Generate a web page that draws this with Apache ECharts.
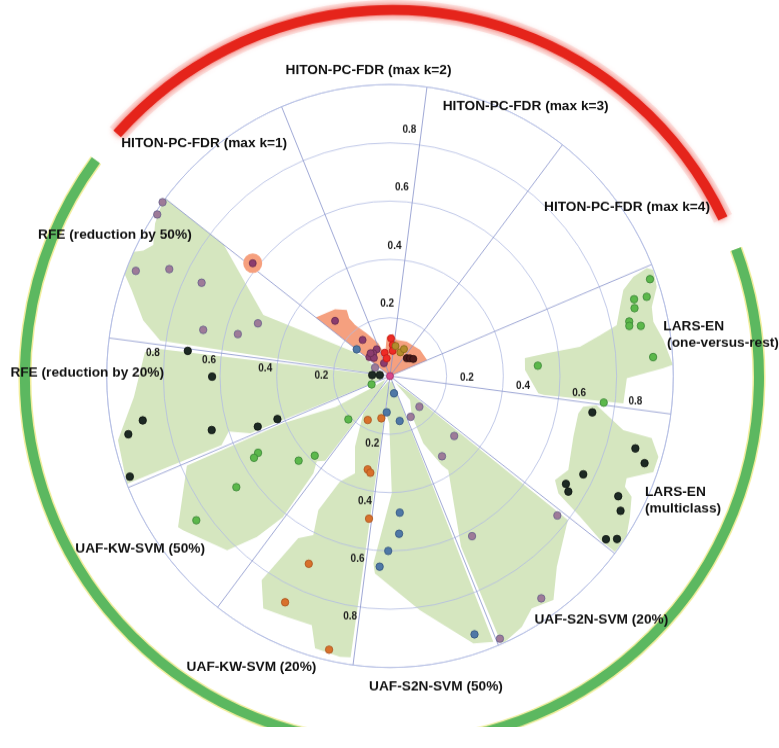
<!DOCTYPE html>
<html>
<head>
<meta charset="utf-8">
<script src="https://cdn.jsdelivr.net/npm/echarts@6/dist/echarts.min.js"></script>
<style>
  html, body { margin: 0; padding: 0; background: #ffffff; overflow: hidden; }
  /* the figure is drawn slightly taller than wide */
  #chart { width: 779px; height: 727px; transform: scaleY(1.029); transform-origin: 0 0; }
</style>
</head>
<body>
<div id="chart"></div>
<script>
// ---- sectors: twelve methods, 30 degrees each, spokes at 22.5 + 30k (math angles) ----
const spokeOffset = 22.5;
const radiusTicks = [0.2, 0.4, 0.6, 0.8];

// ---- observations: [score, angle in degrees] ----
const rfe50 = [[1.00, 143.4], [0.991, 146.0], [0.967, 158.1], [0.861, 154.8], [0.738, 154.3],
               [0.678, 166.5], [0.556, 165.0], [0.500, 158.8], [0.060, 151.6]];
const rfe20 = [[0.719, 173.1], [0.628, 180.2], [0.886, 189.9], [0.945, 192.2], [0.656, 196.4],
               [0.981, 200.6], [0.424, 200.4], [0.498, 200.4], [0.063, 176.9], [0.036, 174.5]];
const kw50 = [[0.071, 203.8], [0.209, 225.3], [0.381, 225.8], [0.434, 222.0], [0.535, 209.5],
              [0.556, 210.3], [0.663, 215.1], [0.844, 215.9]];
const kw20 = [[0.170, 242.5], [0.148, 258.1], [0.330, 256.2], [0.339, 258.2], [0.495, 261.4],
              [0.705, 246.0], [0.860, 244.5], [0.963, 257.1]];
const s2n50 = [[0.061, 283.4], [0.125, 264.7], [0.158, 282.5], [0.470, 274.2], [0.542, 273.4],
               [0.600, 269.4], [0.655, 266.8], [0.935, 288.6], [0.149, 142.1]];
const s2n20 = [[0.148, 314.5], [0.158, 297.6], [0.306, 317.8], [0.331, 303.7], [0.760, 321.0],
               [0.621, 297.8], [0.931, 305.0], [0.981, 293.3]];
const larsMulti = [[0.725, 350.1], [0.901, 344.0], [0.947, 341.6], [0.761, 333.7], [0.723, 329.2],
                   [0.744, 327.8], [0.905, 332.9], [0.936, 330.4], [0.946, 323.7], [0.977, 325.1]];
const larsOvr = [[0.976, 19.9], [0.901, 17.0], [0.946, 16.7], [0.894, 15.1], [0.865, 12.5],
                 [0.862, 11.5], [0.902, 11.0], [0.931, 4.0], [0.523, 3.9], [0.760, 353.1]];
const hitonK1 = [[0.271, 135.7], [0.157, 128.0], [0.103, 117.1], [0.098, 127.1], [0.098, 138.3],
                 [0.084, 132.5], [0.049, 115.9], [0.104, 131.2]];
const hitonK1Highlight = [[0.620, 141.4]];
const hitonK2 = [[0.129, 88.4], [0.107, 84.9], [0.087, 83.8], [0.082, 103.2], [0.062, 100.8]];
const hitonK3 = [[0.089, 65.9], [0.105, 61.9], [0.105, 79.3]];
const hitonK4 = [[0.085, 45.9], [0.093, 40.7], [0.101, 35.4]];
const origin = [[0, 90]];

// ---- outlines of each method's cloud: [score, angle] ----
const hullRfe50 = [[1.0, 142.5], [0.74, 142.5], [0.494, 154.9], [0.12, 144.0], [0.03, 165], [0.05, 171.5],
                   [0.82, 171.5], [0.892, 167.6], [0.958, 162.1], [1.0, 159.5], [1.0, 154.8], [0.971, 153.7],
                   [0.949, 151.7], [0.981, 147.7], [1.0, 143.5]];
const hullRfe20 = [[0.02, 178], [0.815, 173.5], [0.869, 174.6], [0.907, 184.6], [0.985, 192.9], [1.0, 201.7],
                   [0.64, 201.7], [0.60, 198.5], [0.53, 201.7], [0.03, 201.7]];
const hullKw50 = [[0.02, 215], [0.08, 212], [0.22, 209], [0.31, 205.3], [0.41, 203.3], [0.78, 203.2],
                  [0.91, 214.7], [0.902, 215.9], [0.829, 226.1], [0.725, 229.6], [0.614, 232.0], [0.43, 231.0],
                  [0.39, 228.5], [0.37, 231.8], [0.05, 231.8]];
const hullKw20 = [[0.02, 250], [0.08, 233], [0.159, 233.6], [0.272, 243.0], [0.356, 249.7], [0.403, 244.0],
                  [0.525, 241.2], [0.609, 243.6], [0.644, 239.8], [0.834, 237.1], [0.914, 240.7], [0.903, 246.2],
                  [0.898, 252.1], [0.971, 254.2], [0.979, 259.6], [0.975, 261.8], [0.02, 261.8]];
const hullS2n50 = [[0.02, 275], [0.05, 263], [0.128, 263.5], [0.162, 269.1], [0.402, 270.9], [0.645, 264.8],
                   [0.679, 265.5], [0.81, 277.5], [0.963, 287.8], [0.982, 291.8], [0.02, 291.8]];
const hullS2n20 = [[0.03, 310], [0.092, 320.5], [0.80, 321.8], [0.806, 320.7], [0.880, 312.0], [0.961, 306.9],
                   [0.941, 302.1], [0.978, 298.4], [0.998, 294.0], [0.995, 293.2], [0.636, 293.2], [0.383, 302.5],
                   [0.356, 300.9], [0.259, 297.0], [0.154, 299.8], [0.109, 310.6]];
const hullLarsMulti = [[0.690, 351.2], [0.736, 352.2], [0.844, 347.3], [0.948, 347.0], [0.987, 343.7],
                       [0.986, 340.5], [0.906, 337.2], [0.912, 335.4], [0.948, 334.1], [0.975, 330.3],
                       [1.0, 326.6], [0.997, 322.8], [0.9375, 322.8], [0.826, 324.3], [0.718, 325.9],
                       [0.683, 328.5], [0.707, 332.9], [0.680, 342.2], [0.677, 349.1]];
const hullLarsOvr = [[0.979, 22.2], [0.998, 21.4], [0.99, 18.0], [0.954, 14.4], [0.948, 11.3], [0.973, 7.3],
                     [0.999, 2.2], [0.965, 1.6], [0.836, 359.5], [0.829, 353.5], [0.546, 353.2], [0.527, 353.5],
                     [0.477, 2.5], [0.480, 7.3], [0.559, 8.0], [0.678, 8.5], [0.755, 10.7], [0.819, 12.3],
                     [0.846, 16.3], [0.875, 19.7], [0.924, 21.6]];
const hullHiton = [[0.33, 142.5], [0.300, 130.3], [0.273, 124.0], [0.245, 126.0], [0.214, 125.2], [0.168, 119.3],
                   [0.120, 110.2], [0.074, 103.8], [0.135, 94.9], [0.145, 85.8], [0.126, 79.2], [0.132, 63.4],
                   [0.139, 40.1], [0.142, 22.5], [0, 22.5]];

// ---- method groups around the rim: [first angle, last angle] ----
const rimGroups = [[22.5, 142.5], [142.5, 382.5]];

// ---- method names ----
const methodNames = ['HITON-PC-FDR (max k=1)', 'HITON-PC-FDR (max k=2)', 'HITON-PC-FDR (max k=3)',
  'HITON-PC-FDR (max k=4)', 'LARS-EN\n (one-versus-rest)', 'LARS-EN\n(multiclass)', 'UAF-S2N-SVM (20%)',
  'UAF-S2N-SVM (50%)', 'UAF-KW-SVM (20%)', 'UAF-KW-SVM (50%)', 'RFE (reduction by 20%)', 'RFE (reduction by 50%)'];

// ================= presentation =================
const SY = 1.029;                       // vertical stretch applied by the container
const FONT = '"Liberation Sans", Arial, Helvetica, sans-serif';
const nameLayout = [
  { x: 204.2, y: 143.3, align: 'center' }, { x: 368.5, y: 70, align: 'center' },
  { x: 525.7, y: 106.7, align: 'center' }, { x: 627, y: 206.7, align: 'center' },
  { x: 663.3, y: 334.7, align: 'left' }, { x: 645, y: 500.5, align: 'left' },
  { x: 601.3, y: 620, align: 'center' }, { x: 436, y: 687, align: 'center' },
  { x: 251.5, y: 667, align: 'center' }, { x: 205, y: 548.3, align: 'right' },
  { x: 164, y: 373, align: 'right' }, { x: 191.7, y: 235, align: 'right' }
];
const tickGroups = [
  { spoke: 82.5, along: 0.045, perp: 12, side: 1 },
  { spoke: 352.5, along: 0.07, perp: 8, side: 1 },
  { spoke: 172.5, along: 0.04, perp: 9, side: 1 },
  { spoke: 262.5, along: 0.037, perp: 9, side: -1 }
];
const GREEN_FILL = '#d5e6bf', SALMON_FILL = '#f5a07f';
const hulls = [
  [hullRfe50, GREEN_FILL], [hullRfe20, GREEN_FILL], [hullKw50, GREEN_FILL], [hullKw20, GREEN_FILL],
  [hullS2n50, GREEN_FILL], [hullS2n20, GREEN_FILL], [hullLarsMulti, GREEN_FILL], [hullLarsOvr, GREEN_FILL],
  [hullHiton, SALMON_FILL]
];
const rimStyle = [
  { color: '#e5241b', width: 10, insetFrom: 3.1, insetTo: 4.0, glow: true },
  { color: '#5cb860', width: 10, insetFrom: 1.3, insetTo: 2.1, glow: false }
];
const RIM_R = 367, RIM_DX = 2, RIM_DY = 1;

const dotGroups = [
  [rfe50, '#9e7b98', '#67618c'], [rfe20, '#1d2a24', '#0b120e'], [kw50, '#5cb84b', '#3b8437'],
  [kw20, '#d8712c', '#a9531d'], [s2n50, '#4f78a6', '#33557f'], [s2n20, '#9e7b98', '#67618c'],
  [larsMulti, '#1d2a24', '#0b120e'], [larsOvr, '#5cb84b', '#3b8437'],
  [hitonK1, '#8b3c6e', '#66294f'], [hitonK1Highlight, '#8b3c6e', '#66294f'],
  [hitonK2, '#ee2b25', '#c01a16'], [hitonK3, '#b38b2c', '#866819'],
  [hitonK4, '#4a1b1b', '#2a0e0e'], [origin, '#d8478a', '#9b2d64']
];

// math angle (ccw from east) -> angle-axis value
function toAxis(a) { return (((a - spokeOffset) % 360) + 360) % 360; }
function polarData(list) { return list.map(p => [p[0], toAxis(p[1])]); }

const chart = echarts.init(document.getElementById('chart'), null, { renderer: 'canvas' });

const series = [];

// method clouds
series.push({
  type: 'custom', coordinateSystem: 'polar', z: 0, silent: true,
  data: hulls.map(() => [0, 0]),
  renderItem: function (params, api) {
    const h = hulls[params.dataIndex];
    const pts = h[0].map(p => api.coord([p[0], toAxis(p[1])]));
    return { type: 'polygon', shape: { points: pts }, style: { fill: h[1], stroke: null } };
  }
});

// highlighted HITON observation halo
series.push({
  type: 'scatter', coordinateSystem: 'polar', z: 4, silent: true,
  symbolSize: 19, data: polarData(hitonK1Highlight),
  itemStyle: { color: '#f6a07e', opacity: 1 }
});

// observations
dotGroups.forEach((g, i) => {
  series.push({
    type: 'scatter', coordinateSystem: 'polar', z: 5, silent: true,
    symbolSize: i >= 8 ? 7 : 7.4,
    data: polarData(g[0]),
    itemStyle: { color: g[1], borderColor: g[2], borderWidth: 0.8, opacity: 1 }
  });
});

// radius tick labels along four spokes
const tickCells = [];
tickGroups.forEach((g, gi) => radiusTicks.forEach((v, ti) => tickCells.push([gi, ti])));
series.push({
  type: 'custom', coordinateSystem: 'polar', z: 6, silent: true,
  data: tickCells.map(c => [radiusTicks[c[1]], toAxis(tickGroups[c[0]].spoke)]),
  renderItem: function (params, api) {
    const c = tickCells[params.dataIndex];
    const g = tickGroups[c[0]], v = radiusTicks[c[1]];
    const p = api.coord([v + g.along, toAxis(g.spoke)]);
    const t = g.spoke * Math.PI / 180;
    return {
      type: 'text',
      x: p[0] + g.side * g.perp * (-Math.sin(t)),
      y: p[1] + g.side * g.perp * (-Math.cos(t)) / SY,
      style: { text: v.toFixed(1), fill: '#1e1e1e', font: 'bold 10px ' + FONT, align: 'center', verticalAlign: 'middle' }
    };
  }
});

// rim arcs marking the two method families
series.push({
  type: 'custom', coordinateSystem: 'polar', z: 3, silent: true, clip: false,
  data: rimGroups.map(() => [0, 0]),
  renderItem: function (params, api) {
    const g = rimGroups[params.dataIndex], s = rimStyle[params.dataIndex];
    const c = api.coord([0, 0]);
    const a0 = -(g[1] - s.insetTo) * Math.PI / 180;
    const a1 = -(g[0] + s.insetFrom) * Math.PI / 180;
    const base = { type: 'arc', x: c[0] + RIM_DX, y: c[1] + RIM_DY / SY, scaleY: 1 / SY };
    const shape = { cx: 0, cy: 0, r: RIM_R, startAngle: a0, endAngle: a1, clockwise: true };
    const children = [];
    if (s.glow) {
      children.push(Object.assign({}, base, { shape: shape, style: { fill: null, stroke: 'rgba(245,120,110,0.18)', lineWidth: s.width + 10 } }));
      children.push(Object.assign({}, base, { shape: shape, style: { fill: null, stroke: s.color, lineWidth: s.width, shadowBlur: 6, shadowColor: 'rgba(235,40,30,0.75)' } }));
    } else {
      children.push(Object.assign({}, base, { shape: shape, style: { fill: null, stroke: '#f1ee9e', lineWidth: s.width + 3 } }));
      children.push(Object.assign({}, base, { shape: shape, style: { fill: null, stroke: s.color, lineWidth: s.width } }));
    }
    return { type: 'group', children: children };
  }
});

const option = {
  animation: false,
  backgroundColor: '#ffffff',
  polar: { center: [390, 376 / SY], radius: 283.3 },
  angleAxis: {
    type: 'value', min: 0, max: 360, interval: 30, startAngle: spokeOffset, clockwise: false, z: 1,
    axisLine: { show: true, lineStyle: { color: '#b3bde3', width: 0.8 } },
    axisTick: { show: false }, axisLabel: { show: false },
    splitLine: { show: true, lineStyle: { color: '#8893cc', width: 0.8 } }
  },
  radiusAxis: {
    type: 'value', min: 0, max: 1, interval: 0.2, z: 1,
    axisLine: { show: false }, axisTick: { show: false }, axisLabel: { show: false },
    splitLine: { show: true, lineStyle: { color: '#b3bde3', width: 0.8 } }
  },
  graphic: methodNames.map((name, i) => ({
    type: 'text', silent: true, z: 10,
    x: nameLayout[i].x, y: nameLayout[i].y / SY,
    style: { text: name, fill: '#111', font: 'bold 13.7px ' + FONT, align: nameLayout[i].align,
             verticalAlign: 'middle', lineHeight: 15.5 }
  })),
  series: series
};
chart.setOption(option);
</script>
</body>
</html>
